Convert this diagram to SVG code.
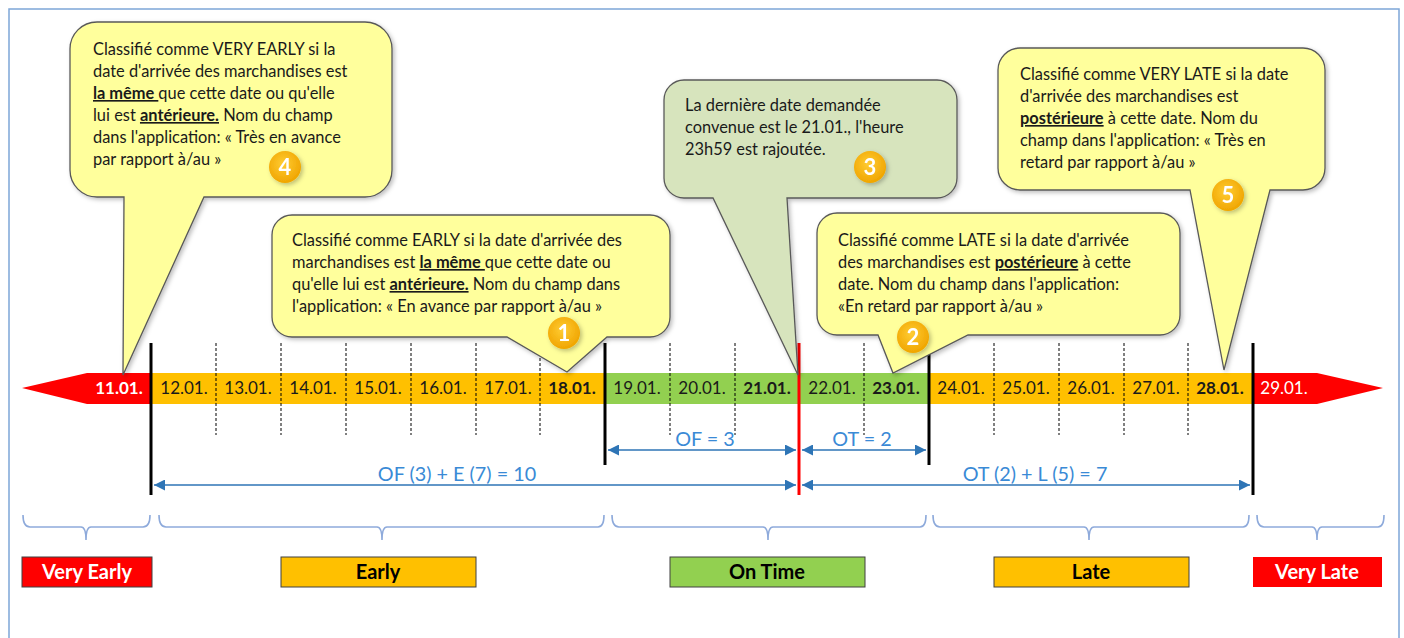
<svg xmlns="http://www.w3.org/2000/svg" width="1404" height="638" viewBox="0 0 1404 638">
<style>
text{font-family:Lato,"Liberation Sans",sans-serif}
.co{font-size:16.4px;fill:#1a1a1a}
.b{font-weight:bold}
.u{font-weight:bold;text-decoration:underline}
.d{font-size:17px;fill:#1a1a1a;text-anchor:middle}
.bl{stroke:#2e75b6;stroke-width:1.5;fill:none}
.bt{font-size:19.8px;fill:#3a8ad6;text-anchor:middle}
.dash{stroke:#000;stroke-width:1;stroke-dasharray:3 2}
.solid{stroke:#000;stroke-width:3}
.yc{fill:#ffff9c;stroke:#595959;stroke-width:1.3;filter:url(#sh)}
.gc{fill:#d7e4bd;stroke:#595959;stroke-width:1.3;filter:url(#sh)}
.br{stroke:#8eaadb;stroke-width:1.6;fill:none}
.lab{font-size:20px;font-weight:bold;text-anchor:middle}
.badge text{font-size:22px;font-weight:bold;fill:#fff;text-anchor:middle}
</style>
<defs>
<marker id="ah" viewBox="0 0 10 10" refX="10" refY="5" markerWidth="11" markerHeight="11" markerUnits="userSpaceOnUse" orient="auto-start-reverse"><path d="M0,0 L10,5 L0,10 Z" fill="#2e75b6"/></marker>
<filter id="sh" x="-10%" y="-10%" width="130%" height="130%"><feDropShadow dx="2" dy="2" stdDeviation="2" flood-color="#000" flood-opacity="0.25"/></filter>
<radialGradient id="og" cx="45%" cy="40%" r="60%"><stop offset="0" stop-color="#ffcc33"/><stop offset="1" stop-color="#f0a500"/></radialGradient>
</defs>
<rect x="9" y="9" width="1390" height="640" fill="#fff" stroke="#7ea6d8" stroke-width="1.5"/>

<g id="timeline">
<polygon points="22,388 87,373 151,373 151,404 87,404" fill="#ff0000"/>
<rect x="151" y="373" width="454" height="31" fill="#ffc000"/>
<rect x="605" y="373" width="324" height="31" fill="#92d050"/>
<rect x="929" y="373" width="324" height="31" fill="#ffc000"/>
<polygon points="1253,373 1317,373 1383,388 1317,404 1253,404" fill="#ff0000"/>
<g class="dash">
<line x1="216" y1="343" x2="216" y2="435"/><line x1="281" y1="343" x2="281" y2="435"/><line x1="346" y1="343" x2="346" y2="435"/><line x1="411" y1="343" x2="411" y2="435"/><line x1="476" y1="343" x2="476" y2="435"/><line x1="540" y1="343" x2="540" y2="435"/><line x1="670" y1="343" x2="670" y2="435"/><line x1="735" y1="343" x2="735" y2="435"/><line x1="864" y1="343" x2="864" y2="435"/><line x1="994" y1="343" x2="994" y2="435"/><line x1="1059" y1="343" x2="1059" y2="435"/><line x1="1124" y1="343" x2="1124" y2="435"/><line x1="1188" y1="343" x2="1188" y2="435"/>
</g>
<text class="d b" x="119" y="394" style="fill:#fff">11.01.</text>
<text class="d" x="184" y="394">12.01.</text>
<text class="d" x="248" y="394">13.01.</text>
<text class="d" x="313" y="394">14.01.</text>
<text class="d" x="378" y="394">15.01.</text>
<text class="d" x="443" y="394">16.01.</text>
<text class="d" x="508" y="394">17.01.</text>
<text class="d b" x="572" y="394">18.01.</text>
<text class="d" x="637" y="394">19.01.</text>
<text class="d" x="702" y="394">20.01.</text>
<text class="d b" x="767" y="394">21.01.</text>
<text class="d" x="832" y="394">22.01.</text>
<text class="d b" x="896" y="394">23.01.</text>
<text class="d" x="961" y="394">24.01.</text>
<text class="d" x="1026" y="394">25.01.</text>
<text class="d" x="1091" y="394">26.01.</text>
<text class="d" x="1156" y="394">27.01.</text>
<text class="d b" x="1220" y="394">28.01.</text>
<text class="d" x="1284" y="394" style="fill:#fff">29.01.</text>
<line class="solid" x1="151" y1="343" x2="151" y2="495"/>
<line class="solid" x1="605" y1="343" x2="605" y2="465"/>
<line class="solid" x1="929" y1="343" x2="929" y2="465"/>
<line class="solid" x1="1253" y1="343" x2="1253" y2="495"/>
<line x1="799" y1="343" x2="799" y2="495" stroke="#ff0000" stroke-width="3"/>
</g>

<g id="connectors">
<line class="bl" x1="608" y1="450" x2="796" y2="450" marker-start="url(#ah)" marker-end="url(#ah)"/>
<line class="bl" x1="802" y1="450" x2="926" y2="450" marker-start="url(#ah)" marker-end="url(#ah)"/>
<line class="bl" x1="154" y1="485" x2="796" y2="485" marker-start="url(#ah)" marker-end="url(#ah)"/>
<line class="bl" x1="802" y1="485" x2="1250" y2="485" marker-start="url(#ah)" marker-end="url(#ah)"/>
<text class="bt" x="705" y="446">OF = 3</text>
<text class="bt" x="862" y="446">OT = 2</text>
<text class="bt" x="457" y="481">OF (3) + E (7) = 10</text>
<text class="bt" x="1035" y="481">OT (2) + L (5) = 7</text>
</g>

<g id="callout4">
<path class="yc" d="M97,22 H365 A27,27 0 0 1 392,49 V170 A27,27 0 0 1 365,197 H204 L123,375 L124,197 H97 A27,27 0 0 1 70,170 V49 A27,27 0 0 1 97,22 Z"/>
<text class="co" x="93" y="55">Classifié comme VERY EARLY si la</text>
<text class="co" x="93" y="77">date d'arrivée des marchandises est</text>
<text class="co" x="93" y="99"><tspan class="u">la même </tspan>que cette date ou qu'elle</text>
<text class="co" x="93" y="121">lui est <tspan class="u">antérieure.</tspan> Nom du champ</text>
<text class="co" x="93" y="143">dans l'application: « Très en avance</text>
<text class="co" x="93" y="165">par rapport à/au »</text>
</g>
<g id="callout1">
<path class="yc" d="M292,215 H650 A20,20 0 0 1 670,235 V317 A20,20 0 0 1 650,337 H607 L567,372 L507,337 H292 A20,20 0 0 1 272,317 V235 A20,20 0 0 1 292,215 Z"/>
<text class="co" x="292" y="246">Classifié comme EARLY si la date d'arrivée des</text>
<text class="co" x="292" y="268">marchandises est <tspan class="u">la même </tspan>que cette date ou</text>
<text class="co" x="292" y="290">qu'elle lui est <tspan class="u">antérieure.</tspan> Nom du champ dans</text>
<text class="co" x="292" y="312">l'application: « En avance par rapport à/au »</text>
</g>
<g id="callout3">
<path class="gc" d="M684,80 H937 A20,20 0 0 1 957,100 V178 A20,20 0 0 1 937,198 H787 L798,375 L713,198 H684 A20,20 0 0 1 664,178 V100 A20,20 0 0 1 684,80 Z"/>
<text class="co" x="685" y="111">La dernière date demandée</text>
<text class="co" x="685" y="133">convenue est le 21.01., l'heure</text>
<text class="co" x="685" y="155">23h59 est rajoutée.</text>
</g>
<g id="callout2">
<path class="yc" d="M837,213 H1160 A20,20 0 0 1 1180,233 V315 A20,20 0 0 1 1160,335 H968 L893,373 L878,335 H837 A20,20 0 0 1 817,315 V233 A20,20 0 0 1 837,213 Z"/>
<text class="co" x="838" y="246">Classifié comme LATE si la date d'arrivée</text>
<text class="co" x="838" y="268">des marchandises est <tspan class="u">postérieure</tspan> à cette</text>
<text class="co" x="838" y="290">date. Nom du champ dans l'application:</text>
<text class="co" x="838" y="312">«En retard par rapport à/au »</text>
</g>
<g id="callout5">
<path class="yc" d="M1020,48 H1303 A22,22 0 0 1 1325,70 V168 A22,22 0 0 1 1303,190 H1270 L1224,370 L1190,190 H1020 A22,22 0 0 1 998,168 V70 A22,22 0 0 1 1020,48 Z"/>
<text class="co" x="1020" y="80">Classifié comme VERY LATE si la date</text>
<text class="co" x="1020" y="102">d'arrivée des marchandises est</text>
<text class="co" x="1020" y="124"><tspan class="u">postérieure</tspan> à cette date. Nom du</text>
<text class="co" x="1020" y="146">champ dans l'application: « Très en</text>
<text class="co" x="1020" y="168">retard par rapport à/au »</text>
</g>

<g id="badges" class="badge">
<g filter="url(#sh)"><circle cx="285" cy="167" r="16" fill="url(#og)"/><text x="285" y="175">4</text></g>
<g filter="url(#sh)"><circle cx="564" cy="333" r="16" fill="url(#og)"/><text x="564" y="341">1</text></g>
<g filter="url(#sh)"><circle cx="870" cy="167" r="16" fill="url(#og)"/><text x="870" y="175">3</text></g>
<g filter="url(#sh)"><circle cx="913" cy="337" r="16" fill="url(#og)"/><text x="913" y="345">2</text></g>
<g filter="url(#sh)"><circle cx="1228" cy="195" r="16" fill="url(#og)"/><text x="1228" y="203">5</text></g>
</g>

<g id="braces">
<path class="br" d="M23,515 Q23,527 30,527 H81 Q86,527 86,540 Q86,527 91,527 H143 Q150,527 150,515"/>
<path class="br" d="M159,515 Q159,527 166,527 H377 Q382,527 382,540 Q382,527 387,527 H598 Q604,527 604,515"/>
<path class="br" d="M612,515 Q612,527 619,527 H763 Q768,527 768,540 Q768,527 773,527 H920 Q926,527 926,515"/>
<path class="br" d="M933,515 Q933,527 940,527 H1084 Q1089,527 1089,540 Q1089,527 1094,527 H1243 Q1249,527 1249,515"/>
<path class="br" d="M1257,515 Q1257,527 1264,527 H1312 Q1317,527 1317,540 Q1317,527 1322,527 H1378 Q1384,527 1384,515"/>
</g>

<g id="veryearly"><rect x="22" y="557" width="130" height="30" fill="#ff0000" stroke="#404040" stroke-width="1"/><text class="lab" x="87" y="579" fill="#fff">Very Early</text></g>
<g id="early"><rect x="281" y="557" width="195" height="30" fill="#ffc000" stroke="#404040" stroke-width="1"/><text class="lab" x="378" y="579" fill="#000">Early</text></g>
<g id="ontime"><rect x="670" y="557" width="195" height="30" fill="#92d050" stroke="#404040" stroke-width="1"/><text class="lab" x="767" y="579" fill="#000">On Time</text></g>
<g id="late"><rect x="994" y="557" width="195" height="30" fill="#ffc000" stroke="#404040" stroke-width="1"/><text class="lab" x="1091" y="579" fill="#000">Late</text></g>
<g id="verylate"><rect x="1253" y="557" width="129" height="30" fill="#ff0000"/><text class="lab" x="1317" y="579" fill="#fff">Very Late</text></g>
</svg>
